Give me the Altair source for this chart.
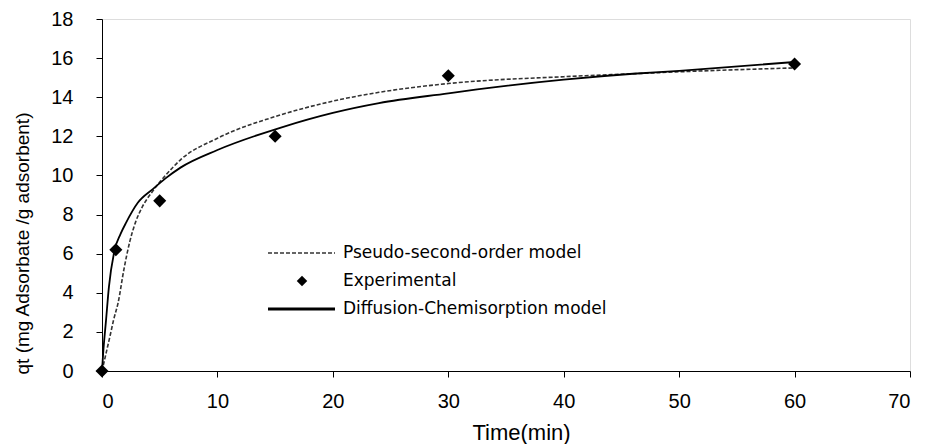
import altair as alt
import pandas as pd

# Experimental data
exp_t = [0, 1.2, 5, 15, 30, 60]
exp_q = [0, 6.2, 8.7, 12.0, 15.1, 15.7]

# Pseudo-second-order model curve
pso_t = [0, 0.35, 0.7, 1.0, 1.4, 1.9, 2.4, 2.9, 3.5, 4.4, 5.5, 6.8, 10, 15.5, 20, 24, 30, 40, 46, 50, 60]
pso_q = [0, 0.9, 1.8, 2.6, 3.5, 5.2, 6.6, 7.6, 8.4, 9.2, 10.0, 10.8, 11.9, 13.1, 13.8, 14.25, 14.7, 15.05, 15.2, 15.3, 15.5]

# Diffusion-Chemisorption model curve
dc_t = [0, 0.1, 0.35, 0.6, 1.1, 1.6, 2.1, 3.1, 4.4, 5.5, 6.8, 10, 15.5, 20, 24, 30, 32.5, 40, 46, 50, 60]
dc_q = [0, 0.9, 2.6, 4.3, 6.2, 7.0, 7.6, 8.6, 9.3, 9.85, 10.4, 11.3, 12.45, 13.2, 13.7, 14.2, 14.4, 14.9, 15.2, 15.35, 15.8]

legend_labels = ["Pseudo-second-order model", "Experimental", "Diffusion-Chemisorption model"]
x_ticks = list(range(0, 71, 10))
y_ticks = list(range(0, 19, 2))

W, H = 808, 352
PAD_L, PAD_T = 102, 19

xs = alt.Scale(domain=[0, 70], nice=False)
ys = alt.Scale(domain=[0, 18], nice=False)

x_axis = alt.Axis(values=x_ticks, tickCount=len(x_ticks) + 1, title="Time(min)", grid=False,
                  domainColor="black",
                  tickColor="black", tickSize=6, labelFont="Liberation Sans", labelFontSize=20,
                  labelColor="black", labelPadding=14, labelOverlap=False,
                  titleFont="Liberation Sans",
                  titleFontSize=22, titleFontWeight="normal", titleColor="black",
                  titleX=419, titleY=61, titleBaseline="middle", titleAlign="center")
y_axis = alt.Axis(values=y_ticks, tickCount=len(y_ticks) + 1, title="qt (mg Adsorbate /g adsorbent)",
                  grid=False,
                  domainColor="black", tickColor="black", tickSize=6,
                  labelFont="Liberation Sans", labelFontSize=20, labelColor="black",
                  labelPadding=23, labelOverlap=False,
                  titleFont="Liberation Sans", titleFontSize=19,
                  titleFontWeight="normal", titleColor="black", titleAngle=-90,
                  titleX=-80, titleY=224, titleBaseline="middle", titleAlign="center")

pso_df = pd.DataFrame({"t": pso_t, "q": pso_q})
dc_df = pd.DataFrame({"t": dc_t, "q": dc_q})
exp_df = pd.DataFrame({"t": exp_t, "q": exp_q})

X = alt.X("t:Q", scale=xs, axis=x_axis)
Y = alt.Y("q:Q", scale=ys, axis=y_axis)

pso = alt.Chart(pso_df).mark_line(color="#333", strokeWidth=1.6, strokeDash=[4, 2],
                                  interpolate="monotone").encode(x=X, y=Y)

dc = alt.Chart(dc_df).mark_line(color="black", strokeWidth=1.8,
                                interpolate="monotone").encode(x=X, y=Y)

pts = alt.Chart(exp_df).mark_point(shape="diamond", filled=True, size=170, color="black",
                                   opacity=1).encode(x=X, y=Y)

one = pd.DataFrame({"a": [0]})
row_y = [253 - PAD_T, 281 - PAD_T, 309 - PAD_T]
lx1, lx2, tx = 268 - PAD_L, 335 - PAD_L, 343 - PAD_L

leg_dash = alt.Chart(one).mark_rule(color="#333", strokeWidth=1.4, strokeDash=[4, 2]).encode(
    x=alt.value(lx1), x2=alt.value(lx2), y=alt.value(row_y[0]))
leg_pt = alt.Chart(one).mark_point(shape="diamond", filled=True, size=110, color="black",
                                   opacity=1).encode(
    x=alt.value(302 - PAD_L), y=alt.value(row_y[1]))
leg_solid = alt.Chart(one).mark_rule(color="black", strokeWidth=3).encode(
    x=alt.value(lx1), x2=alt.value(lx2), y=alt.value(row_y[2]))

leg_texts = [
    alt.Chart(one).mark_text(align="left", baseline="middle", font="DejaVu Sans",
                             fontSize=17, color="black").encode(
        x=alt.value(tx), y=alt.value(row_y[i]), text=alt.value(lbl))
    for i, lbl in enumerate(legend_labels)
]

chart = alt.layer(pso, dc, pts, leg_dash, leg_pt, leg_solid, *leg_texts).properties(
    width=W, height=H,
    autosize=alt.AutoSizeParams(type="none"),
    padding={"left": PAD_L, "top": PAD_T, "right": 938 - PAD_L - W, "bottom": 444 - PAD_T - H},
).configure_view(stroke="#888", strokeWidth=1).configure(background="white")

chart.save("out.html", embed_options={"renderer": "svg", "actions": False})
